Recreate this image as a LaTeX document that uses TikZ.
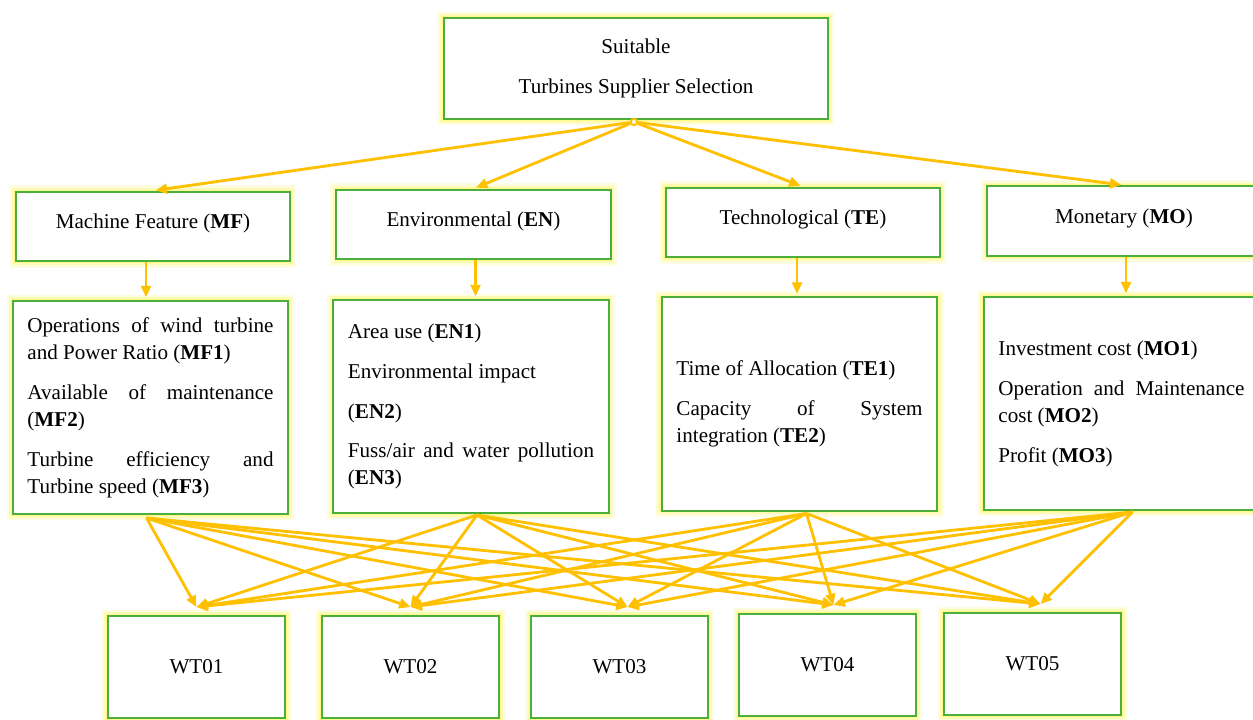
\documentclass[tikz,border=0pt]{standalone}
\usepackage{fontspec}
\setmainfont{Liberation Serif}
\usetikzlibrary{positioning, calc, arrows.meta}

\definecolor{boxgreen}{RGB}{76,175,60}
\definecolor{linkgold}{RGB}{255,192,0}
\definecolor{glowyellow}{RGB}{255,248,100}

\newcommand\listsetup{\setlength{\parindent}{0pt}\setlength{\parskip}{9.2pt}\hyphenpenalty=10000 \exhyphenpenalty=10000 }

\tikzset{
	glow/.style={preaction={draw=glowyellow, line width=9pt, draw opacity=0.2}, preaction={draw=glowyellow, line width=5pt, draw opacity=0.35}, preaction={draw=glowyellow, line width=2.5pt, draw opacity=0.5}},
	critbox/.style={rectangle, draw=boxgreen, line width=1.4pt, fill=white, glow, font=\fontsize{15}{19.2}\selectfont},
	goalbox/.style={critbox, minimum width=9.6cm, minimum height=2.525cm, align=center},
	groupbox/.style={critbox, minimum width=6.85cm, minimum height=1.74cm, text depth=0.25cm},
	listbox/.style={critbox, minimum width=6.875cm, minimum height=5.325cm, text width=6.15cm, inner xsep=0.36cm, align=justify, font=\fontsize{15}{19.2}\selectfont\listsetup},
	altbox/.style={critbox, minimum width=4.425cm, minimum height=2.55cm},
	link/.style={draw=linkgold, line width=2pt, -{Triangle[length=8pt, width=7pt]}}
}

\begin{document}
\begin{tikzpicture}[x=0.025cm, y=-0.025cm]
	\fill[white] (0,0) rectangle (1253,720);
	\useasboundingbox (0,0) rectangle (1253,720);

	\node[goalbox] (goal) at (636,68.5) {Suitable\\[9.2pt]Turbines Supplier Selection};

	\node[groupbox] (mf) at (153,226.5) {Machine Feature (\textbf{MF})};
	\node[groupbox] (en) at (473.5,224.5) {Environmental (\textbf{EN})};
	\node[groupbox] (te) at (803,222.5) {Technological (\textbf{TE})};
	\node[groupbox] (mo) at (1124,221) {Monetary (\textbf{MO})};

	\node[listbox] (mfc) at (150.5,407.5) {Operations of wind turbine and Power Ratio (\textbf{MF1})\par Available of maintenance (\textbf{MF2})\par Turbine efficiency and Turbine speed (\textbf{MF3})};
	\node[listbox] (enc) at (471,406.5) {Area use (\textbf{EN1})\par Environmental impact\par (\textbf{EN2})\par Fuss/air and water pollution (\textbf{EN3})};
	\node[listbox] (tec) at (799.5,404) {Time of Allocation (\textbf{TE1})\par Capacity of System integration (\textbf{TE2})};
	\node[listbox] (moc) at (1121.5,403.5) {Investment cost (\textbf{MO1})\par Operation and Maintenance cost (\textbf{MO2})\par Profit (\textbf{MO3})};

	\node[altbox] (wt1) at (196.5,667) {WT01};
	\node[altbox] (wt2) at (410.5,667) {WT02};
	\node[altbox] (wt3) at (619.5,667) {WT03};
	\node[altbox] (wt4) at (827.5,665) {WT04};
	\node[altbox] (wt5) at (1032.5,664) {WT05};

	\node[circle, draw=linkgold, fill=white, line width=1.4pt, inner sep=0pt, minimum size=0.16cm] (hub) at (634,122) {};

	\foreach \g in {mf, en, te, mo}
		\draw[link, shorten >=2pt] (hub) -- (\g.north);

	\foreach \g/\dx in {mf/-7, en/2, te/-6, mo/2} {
		\coordinate (\g-down) at ($(\g.south)+(\dx,0)$);
		\draw[link, shorten >=2pt] (\g-down) -- (\g-down |- \g c.north);
	}

	\coordinate (mfc-out) at ($(mfc.south)+(-4,3)$);
	\coordinate (enc-out) at ($(enc.south)+(6,1)$);
	\coordinate (tec-out) at ($(tec.south)+(7,2)$);
	\coordinate (moc-out) at ($(moc.south)+(11,1)$);
	\foreach \w/\dx in {wt1/0, wt2/0, wt3/8, wt4/6, wt5/8}
		\coordinate (\w-in) at ($(\w.north)+(\dx,-8)$);

	\foreach \s in {mfc, enc, tec, moc}
		\foreach \w in {wt1, wt2, wt3, wt4, wt5}
			\draw[link] (\s-out) -- (\w-in);
\end{tikzpicture}
\end{document}
